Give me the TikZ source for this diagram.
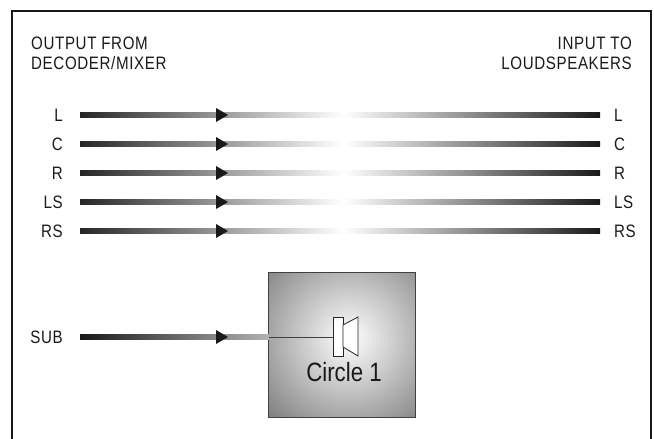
\documentclass[tikz,border=0pt]{standalone}
\usepackage{fontspec}
\setmainfont{Liberation Sans}
\newfontfamily\condfont{Liberation Sans}[FakeStretch=0.84]
\newfontfamily\lblfont{Liberation Sans}[FakeStretch=0.84,LetterSpace=3.5]
\usetikzlibrary{calc}
\tikzset{
  lbl/.style={inner sep=0pt, text=black!90, font=\lblfont\fontsize{18}{20}\selectfont},
  leftseg/.style={left color=black!85, right color=white},
  rightseg/.style={left color=white, right color=black!90},
  subseg/.style={left color=black!90, right color=black!30},
  tip/.style={fill=black!90, draw=none},
  frame/.style={line width=2pt, draw=black!90},
}
\begin{document}
\begin{tikzpicture}[x=1pt,y=-1pt]
\useasboundingbox (0,0) rectangle (654,439);
\draw[frame] (12,445) -- (12,10.5) -- (651,10.5) -- (651,445);

\node[lbl, anchor=north west, align=left] (hl) at (31,36.5) {OUTPUT FROM\\DECODER/MIXER};
\node[lbl, anchor=north east, align=right] (hr) at (632,36.5) {INPUT TO\\LOUDSPEAKERS};

\foreach \n/\y in {L/115,C/144,R/173,LS/202,RS/231}{
  \node[lbl, anchor=east] (l\n) at (63,\y) {\n};
  \node[lbl, anchor=west] (r\n) at (614,\y) {\n};
  \coordinate (a\n) at (80,\y);
  \coordinate (m\n) at (343,\y);
  \coordinate (e\n) at (600,\y);
  \coordinate (t\n) at (228,\y);
  \fill[leftseg] ($(a\n)+(0,-2.5)$) rectangle ($(m\n)+(0,2.5)$);
  \fill[rightseg] ($(m\n)+(0,-2.5)$) rectangle ($(e\n)+(0,2.5)$);
  \fill[tip] (t\n) -- ++(-12,-7) -- ++(0,14) -- cycle;
}

% subwoofer
\node[lbl, anchor=east] (lSUB) at (63,337) {SUB};
\node[minimum width=146pt, minimum height=144pt, inner sep=0pt] (sq) at (342,345) {};
\begin{scope}
  \clip (sq.south west) rectangle (sq.north east);
  \fill[inner color=white, outer color=black!55] (349,338) circle (124);
\end{scope}
\draw[black!75, line width=1pt] (sq.south west) rectangle (sq.north east);

\coordinate (aSUB) at (80,337);
\coordinate (tSUB) at (228,337);
\coordinate (spk) at (333,337);
\fill[subseg] ($(aSUB)+(0,-2.5)$) rectangle ($(sq.west|-aSUB)+(0,2.5)$);
\fill[tip] (tSUB) -- ++(-12,-7) -- ++(0,14) -- cycle;
\draw[black!75, line width=1pt] (sq.west|-aSUB) -- (spk);

\draw[black!85, line width=0.8pt, fill=white] (333,317) rectangle (343,356);
\draw[black!85, line width=0.8pt, fill=white] (343,325) -- (358,317) -- (358,356) -- (343,347) -- cycle;

\node[inner sep=0pt, text=black!90, font=\condfont\fontsize{26.5}{30}\selectfont] (c1) at (344,372) {Circle 1};
\end{tikzpicture}
\end{document}
